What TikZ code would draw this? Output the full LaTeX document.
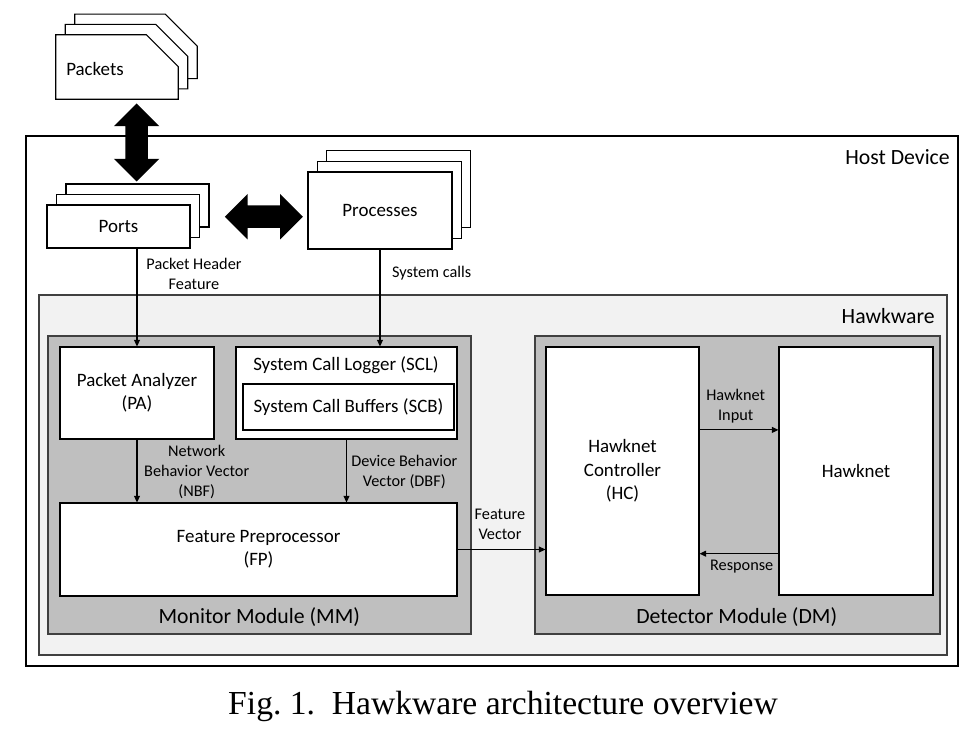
\documentclass[tikz,border=0pt]{standalone}
\usepackage{fontspec}
\setmainfont{Carlito}
\newfontfamily\capfont{Liberation Serif}
\usetikzlibrary{arrows.meta,shapes.arrows,calc}

\begin{document}
\begin{tikzpicture}[x=0.75pt, y=-0.75pt, >={Triangle[length=5pt,width=4.5pt]},
  box/.style={draw, fill=white, line width=0.8pt, inner sep=0pt, align=center, font=\fontsize{14.2}{17.5}\selectfont},
  modulo/.style={draw=black!75, fill=black!25, line width=0.8pt, inner sep=0pt},
  etiq/.style={align=center, inner sep=0pt, font=\fontsize{12.2}{15}\selectfont},
  titulo/.style={inner sep=0pt, font=\fontsize{16.3}{19}\selectfont},
  paquete/.style={inner sep=0pt, minimum width=91.5pt, minimum height=48pt},
  hoja/.style={fill=white, line width=0.8pt},
  flechota/.style={double arrow, fill=black, inner sep=8.25pt, double arrow head extend=8.6pt, minimum width=33.75pt, minimum height=58.5pt},
  flecha/.style={->, line width=0.8pt}]
  \useasboundingbox (0,0) rectangle (978,734);

  % Caja del dispositivo anfitrion
  \node[draw, line width=0.8pt, fill=white, inner sep=0pt, minimum width=699pt, minimum height=397.5pt] (host) at (492,401) {};
  \node[titulo, anchor=east] (hosttxt) at (950,157) {Host Device};

  % Caja de Hawkware
  \node[draw=black!75, line width=0.8pt, fill=black!5, inner sep=0pt, minimum width=681pt, minimum height=270pt] (hawk) at (493,475) {};
  \node[titulo, anchor=east] (hawktxt) at (935,316) {Hawkware};

  % Paquetes (tres hojas con esquina cortada)
  \node[paquete] (pk3) at (136,46.4) {};
  \node[paquete] (pk2) at (126.5,56.7) {};
  \node[paquete] (packets) at (117,67) {};
  \draw[hoja] (pk3.south west) -- (pk3.north west) -- ([xshift=-24pt]pk3.north east) -- ([yshift=-24pt]pk3.north east) -- (pk3.south east) -- cycle;
  \draw[hoja] (pk2.south west) -- (pk2.north west) -- ([xshift=-24pt]pk2.north east) -- ([yshift=-24pt]pk2.north east) -- (pk2.south east) -- cycle;
  \draw[hoja] (packets.south west) -- (packets.north west) -- ([xshift=-24pt]packets.north east) -- ([yshift=-24pt]packets.north east) -- (packets.south east) -- cycle;
  \node[anchor=west, inner sep=0pt, font=\fontsize{14.2}{17.5}\selectfont] (pktxt) at (66,69) {Packets};

  % Puertos (tres copias)
  \node[box, minimum width=107.25pt, minimum height=32.25pt] (ports3) at (137.5,205.5) {};
  \node[box, minimum width=107.25pt, minimum height=32.25pt] (ports2) at (128,216) {};
  \node[box, minimum width=107.25pt, minimum height=32.25pt] (ports) at (118.5,226.5) {Ports};

  % Procesos (tres copias)
  \node[box, minimum width=108pt, minimum height=57.75pt] (proc3) at (398.6,188.9) {};
  \node[box, minimum width=108pt, minimum height=57.75pt] (proc2) at (389.3,199.7) {};
  \node[box, minimum width=108pt, minimum height=57.75pt] (processes) at (380,210.5) {Processes};

  % Flechas gruesas dobles
  \node[flechota, shape border rotate=90] (pkarrow) at (136.7,142.5) {};
  \node[flechota] (prarrow) at (263.9,216.7) {};

  % Modulo monitor
  \node[modulo, minimum width=317.25pt, minimum height=223.5pt] (mm) at (259.5,485) {};
  \node[titulo] (mmtxt) at (259.3,617) {Monitor Module (MM)};
  \node[box, minimum width=115.5pt, minimum height=69pt] (pa) at (137,393) {Packet Analyzer\\(PA)};
  \node[box, minimum width=165.75pt, minimum height=69pt] (scl) at (346.5,393) {};
  \node[inner sep=0pt, font=\fontsize{14.2}{17.5}\selectfont] (scltxt) at (346,365) {System Call Logger (SCL)};
  \node[box, minimum width=158.25pt, minimum height=34.5pt] (scb) at (348.5,407) {System Call Buffers (SCB)};
  \node[box, minimum width=297.75pt, minimum height=69.75pt] (fp) at (258.5,549.5) {Feature Preprocessor\\(FP)};

  % Modulo detector
  \node[modulo, minimum width=303.75pt, minimum height=223.5pt] (dm) at (737.5,485) {};
  \node[titulo] (dmtxt) at (736.7,617) {Detector Module (DM)};
  \node[box, minimum width=114.75pt, minimum height=186pt] (hc) at (622.5,471) {Hawknet\\Controller\\(HC)};
  \node[box, minimum width=115.5pt, minimum height=186pt] (hn) at (856,471) {Hawknet};

  % Conexiones
  \draw[flecha] (pa.north |- ports.south) -- (pa.north);
  \node[etiq] (phf) at (194,274) {Packet Header\\Feature};
  \draw[flecha] (processes.south) -- (processes.south |- scl.north);
  \node[etiq] (sc) at (431.7,273) {System calls};
  \draw[flecha] (pa.south) -- (pa.south |- fp.north);
  \node[etiq] (nbf) at (196.7,471.7) {Network\\Behavior Vector\\(NBF)};
  \draw[flecha] (scl.south) -- (scl.south |- fp.north);
  \node[etiq] (dbf) at (404.3,471.7) {Device Behavior\\Vector (DBF)};
  \draw[flecha] (fp.east) -- (fp.east -| hc.west);
  \node[etiq] (fv) at (500,524.7) {Feature\\Vector};
  \draw[flecha] ($(hc.north east)!0.335!(hc.south east)$) -- ($(hn.north west)!0.335!(hn.south west)$);
  \node[etiq] (hi) at (735.7,406) {Hawknet\\Input};
  \draw[flecha] ($(hn.north west)!0.832!(hn.south west)$) -- ($(hc.north east)!0.832!(hc.south east)$);
  \node[etiq] (resp) at (741.7,566.7) {Response};

  % Pie de figura
  \node[inner sep=0pt, font=\capfont\fontsize{25.2}{30}\selectfont] (caption) at (503,706) {Fig.~1.\ \ Hawkware architecture overview};
\end{tikzpicture}
\end{document}
